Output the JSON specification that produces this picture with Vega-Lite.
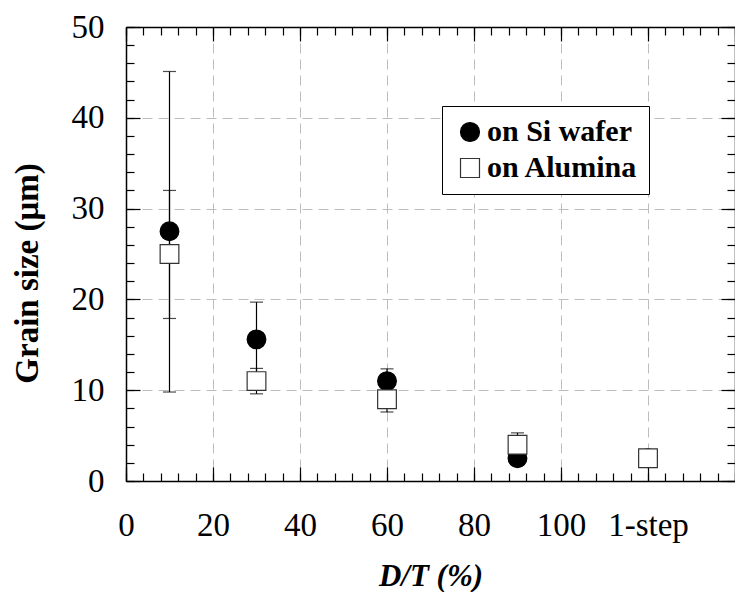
{
  "$schema": "https://vega.github.io/schema/vega-lite/v6.json",
  "width": 609,
  "height": 454,
  "autosize": {"type": "none"},
  "padding": {"left": 126, "top": 27, "right": 0, "bottom": 111},
  "config": {
    "font": "Liberation Serif",
    "view": {"stroke": null},
    "axis": {
      "domainColor": "black",
      "domainWidth": 1.5,
      "tickColor": "black",
      "tickWidth": 1.2,
      "labelColor": "black",
      "titleColor": "black",
      "labelFont": "Liberation Serif",
      "titleFont": "Liberation Serif",
      "gridColor": "#bdbdbd",
      "gridDash": [10, 6],
      "gridWidth": 1
    },
    "legend": {
      "orient": "none",
      "legendX": 316,
      "legendY": 79,
      "strokeColor": "black",
      "fillColor": "white",
      "padding": 11,
      "symbolOffset": 2,
      "labelFont": "Liberation Serif",
      "labelFontSize": 30,
      "labelFontWeight": "bold",
      "labelColor": "black",
      "labelLimit": 400,
      "labelOffset": 2,
      "rowPadding": 6,
      "symbolSize": 360,
      "symbolStrokeWidth": 1.2
    }
  },
  "data": {
    "values": [
      {"series": "on Si wafer", "dt": 10, "mean": 27.5, "lo": 9.8, "hi": 45.1},
      {"series": "on Si wafer", "dt": 30, "mean": 15.6, "lo": 11.5, "hi": 19.7},
      {"series": "on Si wafer", "dt": 60, "mean": 11.0, "lo": 9.6, "hi": 12.35},
      {"series": "on Si wafer", "dt": 90, "mean": 2.5, "lo": 2.0, "hi": 3.0},
      {"series": "on Si wafer", "dt": 120, "mean": 2.5, "lo": 2.0, "hi": 3.0},
      {"series": "on Alumina", "dt": 10, "mean": 25.0, "lo": 17.9, "hi": 32.0},
      {"series": "on Alumina", "dt": 30, "mean": 11.0, "lo": 9.6, "hi": 12.4},
      {"series": "on Alumina", "dt": 60, "mean": 9.0, "lo": 7.6, "hi": 10.4},
      {"series": "on Alumina", "dt": 90, "mean": 4.0, "lo": 2.7, "hi": 5.3},
      {"series": "on Alumina", "dt": 120, "mean": 2.5, "lo": 2.0, "hi": 3.0}
    ]
  },
  "layer": [
    {
      "mark": {"type": "rule", "color": "black", "strokeWidth": 1.2},
      "encoding": {
        "x": {
          "field": "dt", "type": "quantitative",
          "scale": {"domain": [0, 140], "nice": false, "zero": false},
          "axis": {
            "orient": "bottom",
            "values": [0, 20, 40, 60, 80, 100, 120],
            "labelExpr": "datum.value == 120 ? '1-step' : datum.label",
            "grid": true,
            "tickSize": -14,
            "labelFontSize": 33,
            "labelPadding": 42,
            "labelFlush": false,
            "labelOverlap": false,
            "title": "D/T (%)",
            "titleFontSize": 31,
            "titleFontWeight": "bold",
            "titleFontStyle": "italic",
            "titleY": 80
          }
        },
        "y": {
          "field": "lo", "type": "quantitative",
          "scale": {"domain": [0, 50], "nice": false, "zero": false},
          "axis": {
            "orient": "left",
            "values": [0, 10, 20, 30, 40, 50],
            "grid": true,
            "tickSize": -14,
            "labelFontSize": 33,
            "labelPadding": 36,
            "labelDy": -3,
            "labelFlush": false,
            "labelOverlap": false,
            "title": "Grain size (μm)",
            "titleFontSize": 33,
            "titleFontWeight": "bold",
            "titleX": -82,
            "titleY": 246
          }
        },
        "y2": {"field": "hi"}
      }
    },
    {
      "mark": {"type": "tick", "orient": "horizontal", "color": "black", "size": 13, "thickness": 1.2},
      "encoding": {
        "x": {
          "field": "dt", "type": "quantitative",
          "scale": {"domain": [0, 140], "nice": false, "zero": false},
          "axis": {
            "orient": "top",
            "values": [0, 20, 40, 60, 80, 100, 120, 140],
            "labels": false, "grid": false, "tickSize": -14, "title": null
          }
        },
        "y": {
          "field": "lo", "type": "quantitative",
          "scale": {"domain": [0, 50], "nice": false, "zero": false},
          "axis": {
            "orient": "right",
            "values": [0, 10, 20, 30, 40, 50],
            "labels": false, "grid": false, "tickSize": -14, "title": null
          }
        }
      }
    },
    {
      "mark": {"type": "tick", "orient": "horizontal", "color": "black", "size": 13, "thickness": 1.2},
      "encoding": {
        "x": {
          "field": "dt", "type": "quantitative",
          "scale": {"domain": [0, 140], "nice": false, "zero": false},
          "axis": {
            "orient": "bottom",
            "values": [0, 4, 8, 12, 16, 20, 24, 28, 32, 36, 40, 44, 48, 52, 56, 60, 64, 68, 72, 76, 80, 84, 88, 92, 96, 100, 104, 108, 112, 116, 120, 124, 128, 132, 136, 140],
            "labels": false, "grid": false, "domain": false, "tickSize": -8, "title": null
          }
        },
        "y": {
          "field": "hi", "type": "quantitative",
          "scale": {"domain": [0, 50], "nice": false, "zero": false},
          "axis": {
            "orient": "left",
            "values": [0, 2, 4, 6, 8, 10, 12, 14, 16, 18, 20, 22, 24, 26, 28, 30, 32, 34, 36, 38, 40, 42, 44, 46, 48, 50],
            "labels": false, "grid": false, "domain": false, "tickSize": -8, "title": null
          }
        }
      }
    },
    {
      "mark": {"type": "point", "filled": true, "opacity": 1, "strokeWidth": 1.2, "size": 350},
      "encoding": {
        "x": {
          "field": "dt", "type": "quantitative",
          "scale": {"domain": [0, 140], "nice": false, "zero": false},
          "axis": {
            "orient": "top",
            "values": [0, 4, 8, 12, 16, 20, 24, 28, 32, 36, 40, 44, 48, 52, 56, 60, 64, 68, 72, 76, 80, 84, 88, 92, 96, 100, 104, 108, 112, 116, 120, 124, 128, 132, 136, 140],
            "labels": false, "grid": false, "domain": false, "tickSize": -8, "title": null
          }
        },
        "y": {
          "field": "mean", "type": "quantitative",
          "scale": {"domain": [0, 50], "nice": false, "zero": false},
          "axis": {
            "orient": "right",
            "values": [0, 2, 4, 6, 8, 10, 12, 14, 16, 18, 20, 22, 24, 26, 28, 30, 32, 34, 36, 38, 40, 42, 44, 46, 48, 50],
            "labels": false, "grid": false, "domain": false, "tickSize": -8, "title": null
          }
        },
        "shape": {
          "field": "series", "type": "nominal",
          "scale": {"domain": ["on Si wafer", "on Alumina"], "range": ["circle", "square"]},
          "legend": {"title": null}
        },
        "fill": {
          "field": "series", "type": "nominal",
          "scale": {"domain": ["on Si wafer", "on Alumina"], "range": ["black", "white"]},
          "legend": {"title": null}
        },
        "stroke": {
          "field": "series", "type": "nominal",
          "scale": {"domain": ["on Si wafer", "on Alumina"], "range": ["black", "#333333"]},
          "legend": {"title": null}
        }
      }
    }
  ],
  "resolve": {"axis": {"x": "independent", "y": "independent"}}
}
